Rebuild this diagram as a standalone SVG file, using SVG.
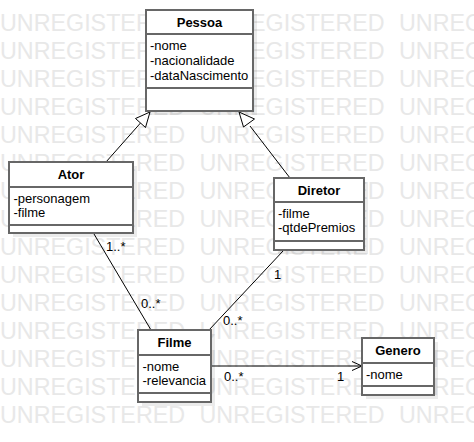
<svg xmlns="http://www.w3.org/2000/svg" xmlns:xlink="http://www.w3.org/1999/xlink" width="474" height="442" viewBox="0 0 474 442">
<style>
text{font-family:"Liberation Sans",Arial,Helvetica,sans-serif;font-size:13px;fill:#000}
.wm{font-size:23.3px;fill:#e8e8e8}
.title{font-weight:bold;text-anchor:middle}
.box{fill:#fff;stroke:#676767;stroke-width:2}
.sh{fill:#000;fill-opacity:0.08}
.div{stroke:#676767;stroke-width:2}
.edge{stroke:#000;stroke-width:1;fill:none}
.gen{stroke:#000;stroke-width:1;fill:#fff}
</style>
<defs>
<g id="wmrow">
<text class="wm" x="0" y="0">UNREGISTERED</text>
<text class="wm" x="199.5" y="0">UNREGISTERED</text>
<text class="wm" x="399" y="0">UNREGISTERED</text>
</g>
</defs>
<rect width="474" height="442" fill="#fff"/>
<g id="watermark">
<use xlink:href="#wmrow" y="30.5"/>
<use xlink:href="#wmrow" y="58.5"/>
<use xlink:href="#wmrow" y="86.5"/>
<use xlink:href="#wmrow" y="114.5"/>
<use xlink:href="#wmrow" y="142.5"/>
<use xlink:href="#wmrow" y="170.5"/>
<use xlink:href="#wmrow" y="198.5"/>
<use xlink:href="#wmrow" y="226.5"/>
<use xlink:href="#wmrow" y="254.5"/>
<use xlink:href="#wmrow" y="282.5"/>
<use xlink:href="#wmrow" y="310.5"/>
<use xlink:href="#wmrow" y="338.5"/>
<use xlink:href="#wmrow" y="366.5"/>
<use xlink:href="#wmrow" y="394.5"/>
<use xlink:href="#wmrow" y="422.5"/>
</g>
<g id="connectors">
<line class="edge" x1="106" y1="162" x2="140.5" y2="123"/>
<polygon class="gen" points="150,112 135.5,118.5 145.5,127.5"/>
<line class="edge" x1="290" y1="178" x2="250" y2="126"/>
<polygon class="gen" points="239,112 243.5,127 254.5,119"/>
<line class="edge" x1="94" y1="234" x2="151" y2="330"/>
<line class="edge" x1="283" y1="251" x2="209" y2="330"/>
<line class="edge" x1="212" y1="366" x2="361" y2="366"/>
<polyline class="edge" points="352,361.5 362,366 352,370.5"/>
<text x="106" y="250.5">1..*</text>
<text x="141" y="307.5">0..*</text>
<text x="274" y="278.5">1</text>
<text x="223" y="325">0..*</text>
<text x="224" y="381">0..*</text>
<text x="337" y="381">1</text>
</g>
<g id="Pessoa">
<rect class="sh" x="150" y="14" width="107" height="101"/>
<rect class="box" x="146" y="10" width="107" height="101"/>
<line class="div" x1="146" y1="34" x2="253" y2="34"/>
<line class="div" x1="146" y1="88" x2="253" y2="88"/>
<text class="title" x="199.5" y="27">Pessoa</text>
<text x="150" y="49.5">-nome</text>
<text x="150" y="64.5">-nacionalidade</text>
<text x="150" y="79.5">-dataNascimento</text>
</g>
<g id="Ator">
<rect class="sh" x="13" y="166" width="124" height="71"/>
<rect class="box" x="9" y="162" width="124" height="71"/>
<line class="div" x1="9" y1="187" x2="133" y2="187"/>
<line class="div" x1="9" y1="225" x2="133" y2="225"/>
<text class="title" x="71" y="179">Ator</text>
<text x="13.5" y="202.5">-personagem</text>
<text x="13.5" y="217">-filme</text>
</g>
<g id="Diretor">
<rect class="sh" x="278" y="182" width="90" height="72"/>
<rect class="box" x="274" y="178" width="90" height="72"/>
<line class="div" x1="274" y1="202" x2="364" y2="202"/>
<line class="div" x1="274" y1="241" x2="364" y2="241"/>
<text class="title" x="319" y="195">Diretor</text>
<text x="278" y="217.5">-filme</text>
<text x="278" y="232">-qtdePremios</text>
</g>
<g id="Filme">
<rect class="sh" x="142" y="334" width="73" height="72"/>
<rect class="box" x="138" y="330" width="73" height="72"/>
<line class="div" x1="138" y1="355" x2="211" y2="355"/>
<line class="div" x1="138" y1="393" x2="211" y2="393"/>
<text class="title" x="174.5" y="347">Filme</text>
<text x="142.5" y="370.5">-nome</text>
<text x="142.5" y="385">-relevancia</text>
</g>
<g id="Genero">
<rect class="sh" x="366" y="342" width="72" height="57"/>
<rect class="box" x="362" y="338" width="72" height="57"/>
<line class="div" x1="362" y1="363" x2="434" y2="363"/>
<line class="div" x1="362" y1="386" x2="434" y2="386"/>
<text class="title" x="398" y="355">Genero</text>
<text x="366" y="378.5">-nome</text>
</g>
</svg>
